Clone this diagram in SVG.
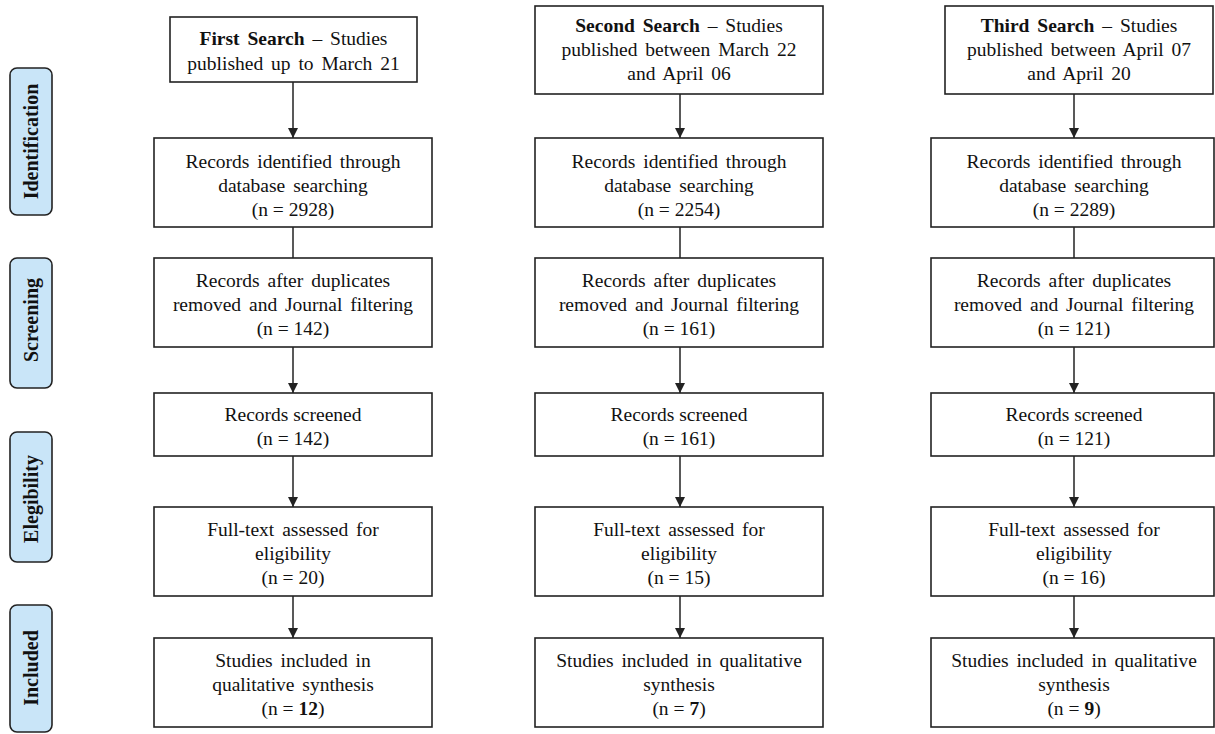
<svg xmlns="http://www.w3.org/2000/svg" width="1215" height="734" viewBox="0 0 1215 734">
<style>
.box{fill:#fff;stroke:#222;stroke-width:1.6}
.lab{fill:#c9e5f8;stroke:#222;stroke-width:1.6}
.t{font-family:"Liberation Serif","Times New Roman",serif;font-size:19.5px;word-spacing:3px;fill:#111;text-anchor:middle}
.n{word-spacing:0}
.lt{font-family:"Liberation Serif","Times New Roman",serif;font-size:20px;font-weight:bold;fill:#111;text-anchor:middle}
.b{font-weight:bold}
.c{stroke:#222;stroke-width:1.5;fill:none}
</style>
<defs>
<marker id="ah" viewBox="0 0 10 10" refX="10" refY="5" markerWidth="10" markerHeight="10" markerUnits="userSpaceOnUse" orient="auto">
<path d="M0,0 L10,5 L0,10 z" fill="#222"/>
</marker>
</defs>
<rect width="1215" height="734" fill="#fff"/>

<g id="stage-identification"><rect class="lab" x="10" y="68" width="42" height="147" rx="7"/><text class="lt" transform="translate(38,141.5) rotate(-90)">Identification</text></g>
<g id="stage-screening"><rect class="lab" x="10" y="258" width="42" height="130" rx="7"/><text class="lt" transform="translate(38,320) rotate(-90)">Screening</text></g>
<g id="stage-eligibility"><rect class="lab" x="10" y="432" width="42" height="130" rx="7"/><text class="lt" transform="translate(38,499) rotate(-90)">Elegibility</text></g>
<g id="stage-included"><rect class="lab" x="10" y="605" width="42" height="127" rx="7"/><text class="lt" transform="translate(38,668) rotate(-90)">Included</text></g>

<g id="connectors">
<line class="c" x1="293" y1="82" x2="293" y2="138" marker-end="url(#ah)"/>
<line class="c" x1="293" y1="227" x2="293" y2="258"/>
<line class="c" x1="293" y1="347" x2="293" y2="393" marker-end="url(#ah)"/>
<line class="c" x1="293" y1="456" x2="293" y2="507" marker-end="url(#ah)"/>
<line class="c" x1="293" y1="596" x2="293" y2="638" marker-end="url(#ah)"/>
<line class="c" x1="680" y1="94" x2="680" y2="138" marker-end="url(#ah)"/>
<line class="c" x1="680" y1="227" x2="680" y2="258"/>
<line class="c" x1="680" y1="347" x2="680" y2="393" marker-end="url(#ah)"/>
<line class="c" x1="680" y1="456" x2="680" y2="507" marker-end="url(#ah)"/>
<line class="c" x1="680" y1="596" x2="680" y2="638" marker-end="url(#ah)"/>
<line class="c" x1="1074" y1="94" x2="1074" y2="138" marker-end="url(#ah)"/>
<line class="c" x1="1074" y1="227" x2="1074" y2="258"/>
<line class="c" x1="1074" y1="347" x2="1074" y2="393" marker-end="url(#ah)"/>
<line class="c" x1="1074" y1="456" x2="1074" y2="507" marker-end="url(#ah)"/>
<line class="c" x1="1074" y1="596" x2="1074" y2="638" marker-end="url(#ah)"/>
</g>

<g id="c1-search"><rect class="box" x="170" y="17" width="247" height="65"/><text class="t" x="293.5" y="45"><tspan class="b">First Search</tspan> – Studies</text><text class="t" x="293.5" y="70">published up to March 21</text></g>
<g id="c1-identified"><rect class="box" x="154" y="138" width="278" height="89"/><text class="t" x="293" y="168">Records identified through</text><text class="t" x="293" y="192">database searching</text><text class="t n" x="293" y="216">(n = 2928)</text></g>
<g id="c1-duplicates"><rect class="box" x="154" y="258" width="278" height="89"/><text class="t" x="293" y="287">Records after duplicates</text><text class="t" x="293" y="311">removed and Journal filtering</text><text class="t n" x="293" y="335">(n = 142)</text></g>
<g id="c1-screened"><rect class="box" x="154" y="393" width="278" height="63"/><text class="t n" x="293" y="421">Records screened</text><text class="t n" x="293" y="445">(n = 142)</text></g>
<g id="c1-fulltext"><rect class="box" x="154" y="507" width="278" height="89"/><text class="t" x="293" y="536">Full-text assessed for</text><text class="t" x="293" y="560">eligibility</text><text class="t n" x="293" y="584">(n = 20)</text></g>
<g id="c1-included"><rect class="box" x="154" y="638" width="278" height="89"/><text class="t" x="293" y="667">Studies included in</text><text class="t" x="293" y="691">qualitative synthesis</text><text class="t n" x="293" y="715">(n = <tspan class="b">12</tspan>)</text></g>

<g id="c2-search"><rect class="box" x="535" y="6" width="288" height="88"/><text class="t" x="679" y="32"><tspan class="b">Second Search</tspan> – Studies</text><text class="t" x="679" y="56">published between March 22</text><text class="t" x="679" y="80">and April 06</text></g>
<g id="c2-identified"><rect class="box" x="535" y="138" width="288" height="89"/><text class="t" x="679" y="168">Records identified through</text><text class="t" x="679" y="192">database searching</text><text class="t n" x="679" y="216">(n = 2254)</text></g>
<g id="c2-duplicates"><rect class="box" x="535" y="258" width="288" height="89"/><text class="t" x="679" y="287">Records after duplicates</text><text class="t" x="679" y="311">removed and Journal filtering</text><text class="t n" x="679" y="335">(n = 161)</text></g>
<g id="c2-screened"><rect class="box" x="535" y="393" width="288" height="63"/><text class="t n" x="679" y="421">Records screened</text><text class="t n" x="679" y="445">(n = 161)</text></g>
<g id="c2-fulltext"><rect class="box" x="535" y="507" width="288" height="89"/><text class="t" x="679" y="536">Full-text assessed for</text><text class="t" x="679" y="560">eligibility</text><text class="t n" x="679" y="584">(n = 15)</text></g>
<g id="c2-included"><rect class="box" x="535" y="638" width="288" height="89"/><text class="t" x="679" y="667">Studies included in qualitative</text><text class="t" x="679" y="691">synthesis</text><text class="t n" x="679" y="715">(n = <tspan class="b">7</tspan>)</text></g>

<g id="c3-search"><rect class="box" x="945" y="6" width="268" height="88"/><text class="t" x="1079" y="32"><tspan class="b">Third Search</tspan> – Studies</text><text class="t" x="1079" y="56">published between April 07</text><text class="t" x="1079" y="80">and April 20</text></g>
<g id="c3-identified"><rect class="box" x="931" y="138" width="283" height="89"/><text class="t" x="1074" y="168">Records identified through</text><text class="t" x="1074" y="192">database searching</text><text class="t n" x="1074" y="216">(n = 2289)</text></g>
<g id="c3-duplicates"><rect class="box" x="931" y="258" width="283" height="89"/><text class="t" x="1074" y="287">Records after duplicates</text><text class="t" x="1074" y="311">removed and Journal filtering</text><text class="t n" x="1074" y="335">(n = 121)</text></g>
<g id="c3-screened"><rect class="box" x="931" y="393" width="283" height="63"/><text class="t n" x="1074" y="421">Records screened</text><text class="t n" x="1074" y="445">(n = 121)</text></g>
<g id="c3-fulltext"><rect class="box" x="931" y="507" width="283" height="89"/><text class="t" x="1074" y="536">Full-text assessed for</text><text class="t" x="1074" y="560">eligibility</text><text class="t n" x="1074" y="584">(n = 16)</text></g>
<g id="c3-included"><rect class="box" x="931" y="638" width="283" height="89"/><text class="t" x="1074" y="667">Studies included in qualitative</text><text class="t" x="1074" y="691">synthesis</text><text class="t n" x="1074" y="715">(n = <tspan class="b">9</tspan>)</text></g>
</svg>
